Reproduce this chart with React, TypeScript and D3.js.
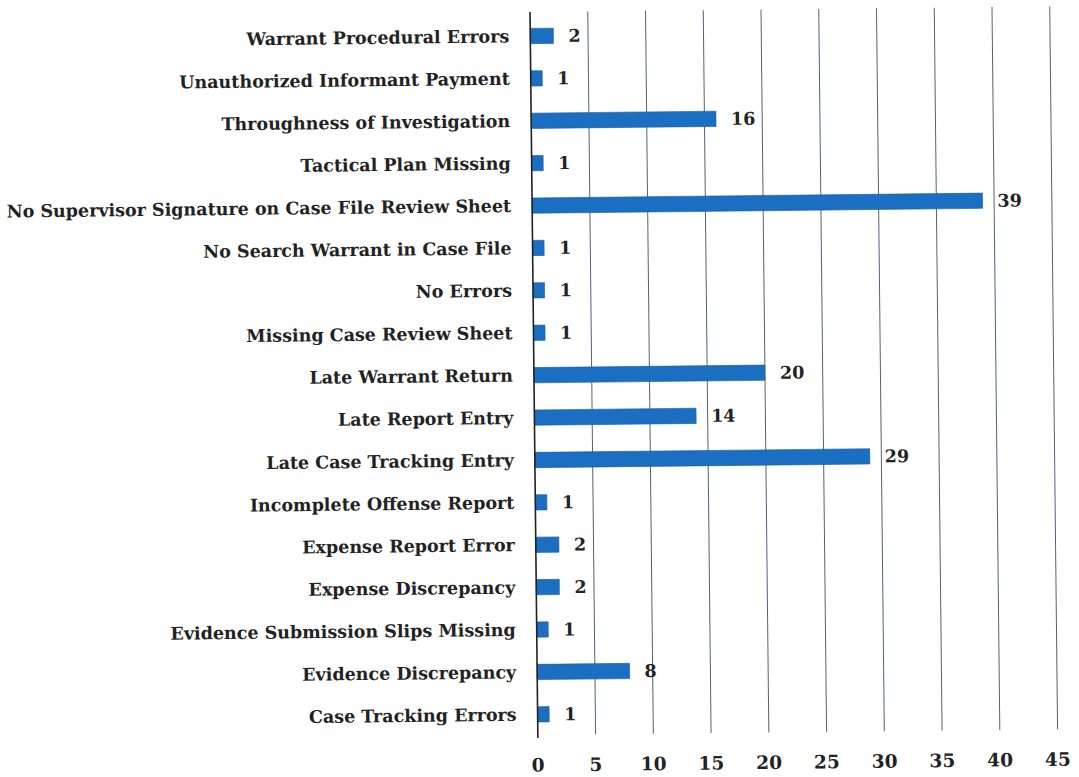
import React from "react";
import * as d3 from "d3";

const categories = [
  "Warrant Procedural Errors",
  "Unauthorized Informant Payment",
  "Throughness of Investigation",
  "Tactical Plan Missing",
  "No Supervisor Signature on Case File Review Sheet",
  "No Search Warrant in Case File",
  "No Errors",
  "Missing Case Review Sheet",
  "Late Warrant Return",
  "Late Report Entry",
  "Late Case Tracking Entry",
  "Incomplete Offense Report",
  "Expense Report Error",
  "Expense Discrepancy",
  "Evidence Submission Slips Missing",
  "Evidence Discrepancy",
  "Case Tracking Errors",
];
const values = [2, 1, 16, 1, 39, 1, 1, 1, 20, 14, 29, 1, 2, 2, 1, 8, 1];
const ticks = [0, 5, 10, 15, 20, 25, 30, 35, 40, 45];

const W = 1079;
const H = 777;
const FONT = "'DejaVu Serif', serif";

export default function App() {
  const x = d3.scaleLinear().domain([0, 45]).range([534, 534 + 45 * 11.55]);
  const y = d3
    .scaleBand<string>()
    .domain(categories)
    .range([14.8, 14.8 + 17 * 42.4])
    .paddingInner(0.64)
    .paddingOuter(0.32);
  const bw = y.bandwidth();
  const gridTop = 12;
  const gridBottom = 735;

  return (
    <svg
      width={W}
      height={H}
      style={{ position: "absolute", left: 0, top: 0, background: "#fff" }}
    >
      <rect x={0} y={0} width={W} height={H} fill="#fff" />
      <g transform="rotate(-0.62, 534, 380)">
        {ticks.slice(1).map((t) => (
          <line
            key={"g" + t}
            x1={x(t)}
            x2={x(t)}
            y1={gridTop}
            y2={gridBottom}
            stroke="#56607a"
            strokeWidth={1}
          />
        ))}
        {categories.map((c, i) => (
          <rect
            key={"b" + c}
            x={x(0)}
            y={y(c)!}
            width={x(values[i]) - x(0)}
            height={bw}
            fill="#1b6fc2"
            stroke="#1559a0"
            strokeWidth={0.6}
          />
        ))}
        <line
          x1={x(0)}
          x2={x(0)}
          y1={gridTop}
          y2={gridBottom + 3}
          stroke="#222"
          strokeWidth={1.6}
        />
        {categories.map((c) => (
          <text
            key={"l" + c}
            x={513}
            y={y(c)! + bw / 2}
            dy="0.35em"
            textAnchor="end"
            fontFamily={FONT}
            fontWeight="bold"
            fontSize={17.5}
            fill="#222"
          >
            {c}
          </text>
        ))}
        {categories.map((c, i) => (
          <text
            key={"v" + c}
            x={x(values[i]) + 15}
            y={y(c)! + bw / 2}
            dy="0.35em"
            textAnchor="start"
            fontFamily={FONT}
            fontWeight="bold"
            fontSize={17.5}
            fill="#222"
          >
            {values[i]}
          </text>
        ))}
        {ticks.map((t) => (
          <text
            key={"t" + t}
            x={x(t)}
            y={765}
            dy="0.35em"
            textAnchor="middle"
            fontFamily={FONT}
            fontWeight="bold"
            fontSize={18.5}
            fill="#222"
          >
            {t}
          </text>
        ))}
      </g>
    </svg>
  );
}
